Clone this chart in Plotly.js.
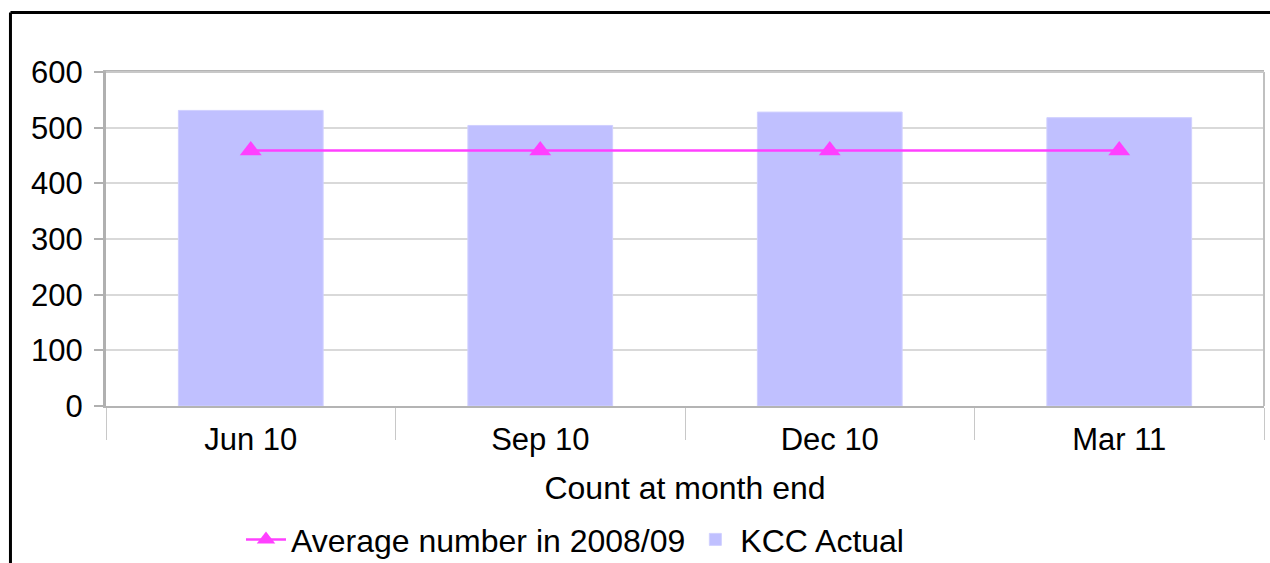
<!DOCTYPE html>
<html>
<head>
<meta charset="utf-8">
<script src="https://cdn.plot.ly/plotly-3.0.1.min.js"></script>
<style>
html,body{margin:0;padding:0;background:#fff;}
#chart{width:1270px;height:563px;}
</style>
</head>
<body>
<div id="chart"></div>
<script>
const categories = ["Jun 10", "Sep 10", "Dec 10", "Mar 11"];
const kccActual = [531, 504, 528, 518];
const average0809 = [459, 459, 459, 459];
const yTicks = [0, 100, 200, 300, 400, 500, 600];

const FONT = "Liberation Sans, Arial, sans-serif";

const traces = [
  {
    type: "scatter",
    mode: "lines+markers",
    name: "Average number in 2008/09",
    x: categories,
    y: average0809,
    line: {color: "#ff40ff", width: 2.5},
    marker: {symbol: "triangle-up", size: 19, color: "#ff40ff"},
    cliponaxis: false
  },
  {
    type: "bar",
    name: "KCC Actual",
    x: categories,
    y: kccActual,
    marker: {color: "#c0c0ff", line: {color: "#d0d0ff", width: 1}}
  }
];

const layout = {
  width: 1270,
  height: 563,
  margin: {l: 106, r: 6, t: 72, b: 157, autoexpand: false},
  paper_bgcolor: "#ffffff",
  plot_bgcolor: "#ffffff",
  font: {family: FONT, size: 31, color: "#000000"},
  bargap: 0.5,
  showlegend: true,
  legend: {
    orientation: "h",
    x: 0.405, xanchor: "center",
    y: -0.40, yanchor: "middle",
    font: {family: FONT, size: 32, color: "#000"},
    itemwidth: 40,
    tracegroupgap: 0
  },
  xaxis: {
    type: "category",
    tickson: "boundaries",
    ticks: "outside",
    ticklen: 32,
    tickwidth: 1,
    tickcolor: "#c8c8c8",
    ticklabelstandoff: 5,
    showline: true,
    linecolor: "#b4b4b4",
    linewidth: 2,
    mirror: true,
    showgrid: false,
    tickfont: {family: FONT, size: 31, color: "#000"},
    title: {text: "Count at month end", font: {family: FONT, size: 32, color: "#000"}, standoff: 20}
  },
  yaxis: {
    range: [0, 600],
    tickvals: yTicks,
    ticktext: yTicks.map(String),
    ticks: "outside",
    ticklen: 9,
    tickwidth: 2,
    tickcolor: "#b0b0b0",
    ticklabelstandoff: 5,
    showline: true,
    linecolor: "#b0b0b0",
    linewidth: 3,
    mirror: false,
    showgrid: true,
    gridcolor: "#d9d9d9",
    gridwidth: 2,
    zeroline: false,
    tickfont: {family: FONT, size: 31, color: "#000"}
  },
  shapes: [
    {type: "line", xref: "paper", yref: "paper", x0: 1, x1: 1, y0: 0, y1: 1,
     line: {color: "#c0c0c0", width: 2}},
    {type: "line", xref: "paper", yref: "paper", x0: 0, x1: 1, y0: 1, y1: 1,
     line: {color: "#c8c8c8", width: 2}},
    {type: "line", xref: "paper", yref: "paper", x0: -0.0825, x1: 1.2, y0: 1.178, y1: 1.178,
     line: {color: "#000", width: 3}},
    {type: "line", xref: "paper", yref: "paper", x0: -0.0825, x1: -0.0825, y0: 1.178, y1: -1,
     line: {color: "#000", width: 3}}
  ]
};

Plotly.newPlot("chart", traces, layout, {displayModeBar: false, staticPlot: true});
</script>
</body>
</html>
